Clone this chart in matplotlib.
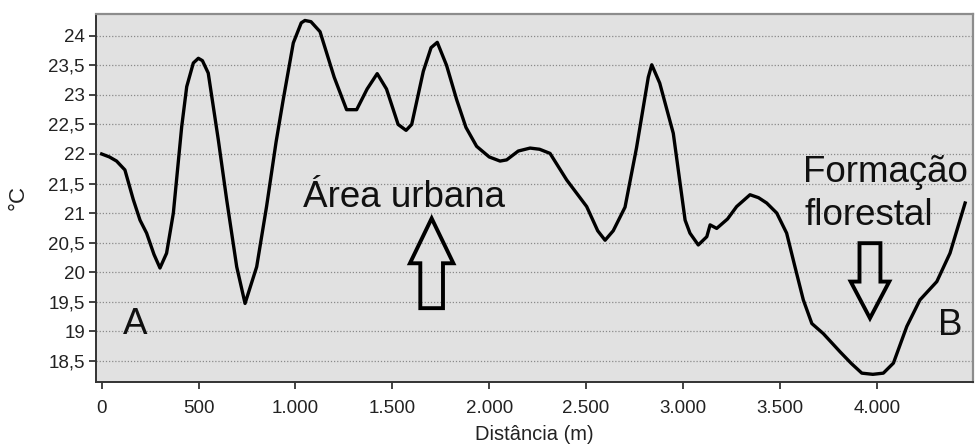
import numpy as np
import matplotlib
matplotlib.use('Agg')
import matplotlib.pyplot as plt
from matplotlib.patches import FancyArrow

# temperature profile (distance in m, temperature in C)
dist = [0, 40, 77, 120, 163, 198, 232, 270, 301, 335, 370, 413, 439, 473, 499,
        520, 550, 602, 645, 697, 740, 800, 851, 900, 937, 989, 1030, 1049, 1080, 1127,
        1200, 1264, 1316, 1370, 1422, 1470, 1530, 1571, 1600, 1660, 1700, 1732,
        1780, 1832, 1880, 1935, 2000, 2056, 2090, 2150, 2211, 2260, 2314, 2400,
        2503, 2560, 2598, 2640, 2701, 2760, 2821, 2839, 2880, 2950, 3011, 3036,
        3079, 3123, 3140, 3174, 3230, 3277, 3346, 3390, 3432, 3484, 3535, 3578,
        3621, 3665, 3724, 3811, 3870, 3923, 3980, 4034, 4086, 4155, 4223, 4310,
        4378, 4456]
temp = [22.0, 21.95, 21.88, 21.73, 21.23, 20.88, 20.66, 20.3, 20.07, 20.32,
        21.0, 22.46, 23.14, 23.54, 23.62, 23.58, 23.37, 22.24, 21.23, 20.09, 19.47,
        20.09, 21.11, 22.2, 22.92, 23.88, 24.22, 24.26, 24.24, 24.07, 23.3,
        22.75, 22.75, 23.1, 23.36, 23.1, 22.5, 22.4, 22.5, 23.4, 23.8, 23.89,
        23.5, 22.92, 22.45, 22.13, 21.95, 21.88, 21.9, 22.05, 22.1, 22.08,
        22.01, 21.56, 21.11, 20.7, 20.54, 20.7, 21.1, 22.1, 23.3, 23.51, 23.2,
        22.35, 20.88, 20.66, 20.46, 20.6, 20.8, 20.74, 20.9, 21.11, 21.31,
        21.26, 21.17, 21.0, 20.66, 20.09, 19.53, 19.13, 18.96, 18.65, 18.45,
        18.29, 18.27, 18.29, 18.46, 19.08, 19.53, 19.84, 20.32, 21.17]

xticks = [0, 500, 1000, 1500, 2000, 2500, 3000, 3500, 4000]
xticklabels = ['0', '500', '1.000', '1.500', '2.000', '2.500', '3.000', '3.500', '4.000']
yticks = [18.5, 19, 19.5, 20, 20.5, 21, 21.5, 22, 22.5, 23, 23.5, 24]
yticklabels = ['18,5', '19', '19,5', '20', '20,5', '21', '21,5', '22', '22,5', '23', '23,5', '24']

plt.rcParams['font.family'] = ['Liberation Sans', 'DejaVu Sans']

fig = plt.figure(figsize=(9.75, 4.48), dpi=100)
ax = fig.add_axes([0.0985, 0.1473, 0.8995, 0.8215])
ax.set_facecolor('#e1e1e1')

ax.plot(dist, temp, color='black', linewidth=2.4, solid_joinstyle='round')

ax.set_xlim(-29, 4497)
ax.set_ylim(18.14, 24.37)
ax.set_xticks(xticks)
ax.set_xticklabels(xticklabels)
ax.set_yticks(yticks)
ax.set_yticklabels(yticklabels)
ax.tick_params(axis='both', direction='out', length=5, width=1.2, colors='#222222',
               labelsize=13.5, pad=3)
ax.tick_params(axis='x', pad=8)
ax.yaxis.grid(True, linestyle=(0, (1, 1.5)), color='#8a8a8a', linewidth=0.9)
ax.set_axisbelow(True)

for s in ['left', 'bottom']:
    ax.spines[s].set_color('#333333')
    ax.spines[s].set_linewidth(1.4)
for s in ['top', 'right']:
    ax.spines[s].set_color('#8c8c8c')
    ax.spines[s].set_linewidth(1.6)

ax.set_xlabel('Distância (m)', fontsize=14.5, color='#222222', labelpad=6)
ax.set_ylabel('°C', fontsize=16, color='#222222', labelpad=14)

# annotations
ax.text(1560, 21.1, 'Área urbana', fontsize=26.5, color='#111111', ha='center', va='baseline')
ax.text(3620, 21.53, 'Formação', fontsize=26.5, color='#111111', ha='left', va='baseline')
ax.text(3625, 20.80, 'florestal', fontsize=26.5, color='#111111', ha='left', va='baseline')
ax.text(112, 18.95, 'A', fontsize=26.5, color='#111111', ha='left', va='baseline')
ax.text(4318, 18.93, 'B', fontsize=26.5, color='#111111', ha='left', va='baseline')

up = FancyArrow(1703, 19.39, 0, 1.52, width=117, head_width=224, head_length=0.76,
                length_includes_head=True, facecolor='none', edgecolor='black', linewidth=2.8)
ax.add_patch(up)
down = FancyArrow(3965, 20.49, 0, -1.27, width=108, head_width=199, head_length=0.62,
                  length_includes_head=True, facecolor='none', edgecolor='black', linewidth=2.8)
ax.add_patch(down)

fig.savefig('out.png', dpi=100)
